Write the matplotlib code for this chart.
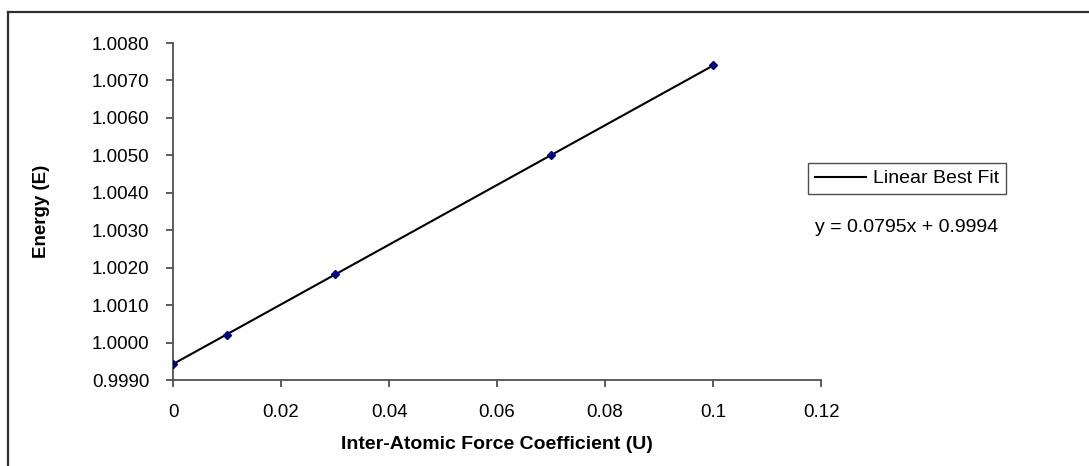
import numpy as np
import matplotlib
matplotlib.use("Agg")
import matplotlib.pyplot as plt
from matplotlib.lines import Line2D

# data
u_values = [0.0, 0.01, 0.03, 0.07, 0.1]
energy = [0.99943, 1.00021, 1.00183, 1.00500, 1.00740]
x_ticks = [0, 0.02, 0.04, 0.06, 0.08, 0.1, 0.12]
x_tick_labels = ["0", "0.02", "0.04", "0.06", "0.08", "0.1", "0.12"]
y_ticks = [0.9990, 1.0000, 1.0010, 1.0020, 1.0030, 1.0040, 1.0050, 1.0060, 1.0070, 1.0080]
fit_label = "Linear Best Fit"
equation_text = "y = 0.0795x + 0.9994"

plt.rcParams['font.family'] = ['Liberation Sans', 'DejaVu Sans']

fig = plt.figure(figsize=(10.89, 4.66), dpi=100)
ax = fig.add_axes([0.1589, 0.1845, 0.5951, 0.7232])

# trendline over the data range
slope, intercept = np.polyfit(u_values, energy, 1)
xs = np.array([min(u_values), max(u_values)])
ax.plot(xs, slope * xs + intercept, color="black", lw=1.5, label=fit_label, zorder=2)
ax.plot(u_values, energy, linestyle="none", marker="D", markersize=4.5,
        color="#000080", zorder=3)

ax.set_xlim(0, 0.12)
ax.set_ylim(0.9990, 1.0080)
ax.set_xticks(x_ticks)
ax.set_xticklabels(x_tick_labels)
ax.set_yticks(y_ticks)
ax.set_yticklabels([f"{v:.4f}" for v in y_ticks])

for side in ("top", "right"):
    ax.spines[side].set_visible(False)
for side in ("left", "bottom"):
    ax.spines[side].set_color("#505050")
    ax.spines[side].set_linewidth(1.3)
ax.tick_params(axis="both", direction="out", length=5, width=1.3, color="#505050",
               labelsize=13.5, labelcolor="black")
ax.tick_params(axis="y", pad=12)
ax.tick_params(axis="x", pad=12)

ax.set_xlabel("Inter-Atomic Force Coefficient (U)", fontsize=14, fontweight="bold", labelpad=11)
ax.set_ylabel("Energy (E)", fontsize=13.5, fontweight="bold", labelpad=30)

leg = ax.legend(loc="upper left", bbox_to_anchor=(0.98, 0.644), frameon=True,
                fancybox=False, fontsize=14, handlelength=2.6, handletextpad=0.4,
                borderpad=0.35, borderaxespad=0)
leg.get_frame().set_edgecolor("#202020")
leg.get_frame().set_linewidth(1.0)

fig.text(0.7484, 0.511, equation_text, fontsize=14, ha="left", va="center")

# outer chart-area frame (runs off the right and bottom edges)
fig.add_artist(Line2D([8 / 1089, 1.0], [1 - 12 / 466, 1 - 12 / 466],
                      transform=fig.transFigure, color="#303030", lw=1.6))
fig.add_artist(Line2D([8 / 1089, 8 / 1089], [1 - 12 / 466, 0.0],
                      transform=fig.transFigure, color="#303030", lw=1.6))

fig.savefig("out.png", dpi=100)
